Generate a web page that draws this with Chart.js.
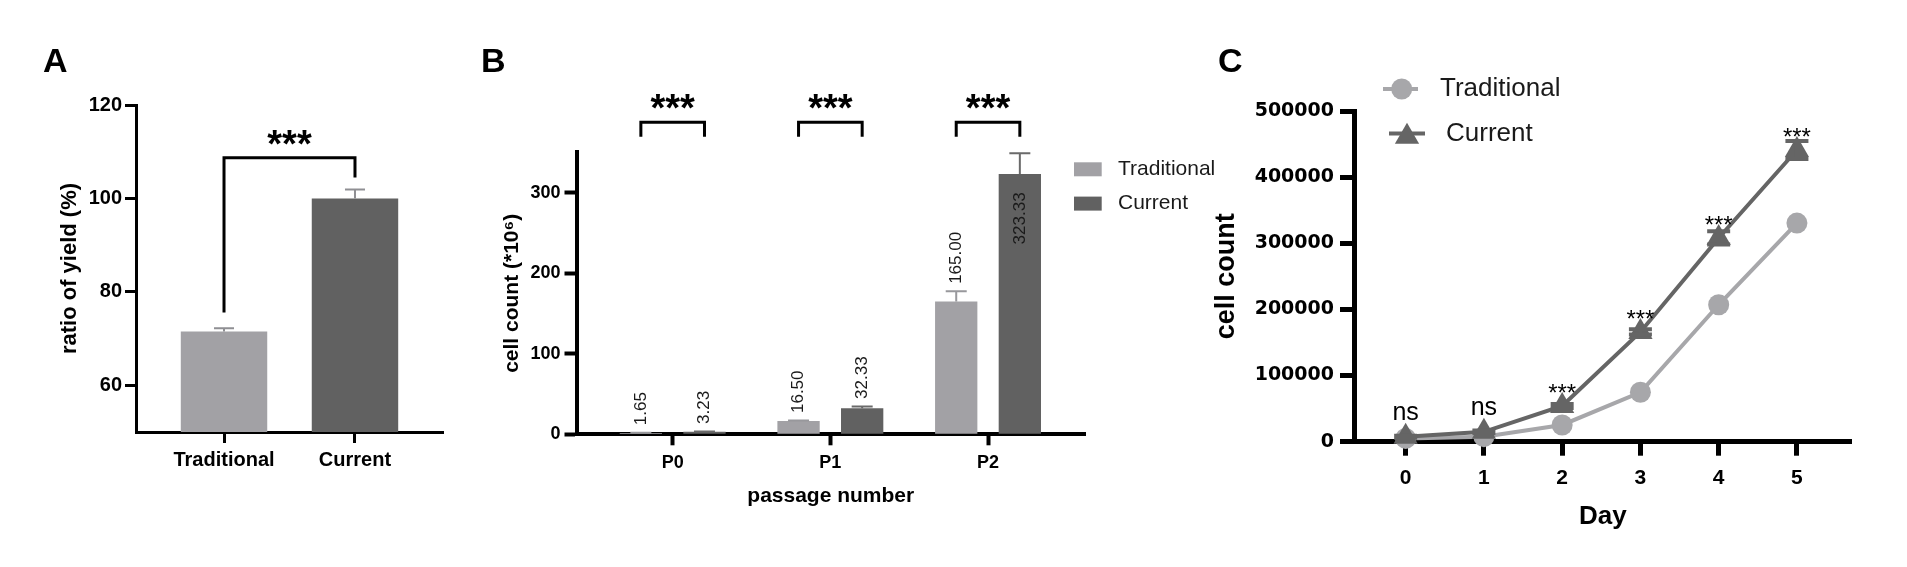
<!DOCTYPE html>
<html>
<head>
<meta charset="utf-8">
<title>Cell yield comparison</title>
<script src="https://cdn.jsdelivr.net/npm/chart.js@4.4.1/dist/chart.umd.min.js"></script>
<style>
  body { margin: 0; background: #fff; }
  #wrap { position: relative; width: 1907px; height: 567px; overflow: hidden; }
  #wrap canvas { position: absolute; left: 0; top: 0; }
  .tag { position: absolute; font: bold 34px "Liberation Sans", Arial, sans-serif; line-height: 1; color: #000; }
</style>
</head>
<body>
<div id="wrap">
  <canvas id="chartA" width="1907" height="567"></canvas>
  <canvas id="chartB" width="1907" height="567"></canvas>
  <canvas id="chartC" width="1907" height="567"></canvas>
  <div class="tag" style="left:43px;top:43px">A</div>
  <div class="tag" style="left:481px;top:43px">B</div>
  <div class="tag" style="left:1218px;top:43px">C</div>
</div>
<script>
// ================= DATA =================
// A: ratio of yield
const yieldGroups = ['Traditional', 'Current'];
const yieldMeans = [71.5, 100];
const yieldErr = [0.7, 1.9];
const yieldTicks = [60, 80, 100, 120];

// B: cell count per passage (*10^6)
const passages = ['P0', 'P1', 'P2'];
const passTraditional = [1.65, 16.50, 165.00];
const passCurrent = [3.23, 32.33, 323.33];
const passTradErr = [0.3, 0.6, 12.5];
const passCurErr = [0.4, 2.3, 25.5];
const passTicks = [0, 100, 200, 300];

// C: growth curve
const days = [0, 1, 2, 3, 4, 5];
const dayTraditional = [5000, 7600, 25300, 74800, 207000, 330500];
const dayCurrent = [7500, 15000, 54000, 166000, 308000, 441000];
const dayCurErr = [1500, 2000, 3000, 4000, 10000, 13500];
const dayMarks = ['ns', 'ns', '***', '***', '***', '***'];
const dayTicks = [0, 100000, 200000, 300000, 400000, 500000];

// ================= STYLE =================
const fontFam = '"Liberation Sans", Arial, Helvetica, sans-serif';
const ink = '#000';
const colTrad = '#a2a1a5';
const colCur = '#616161';
const colTradLine = '#a7a7aa';
const colCurLine = '#656565';

function fixTicks(values) {
  return s => { s.ticks = values.map(v => ({ value: v })); };
}

function axisStyle(width, tickLen) {
  return {
    grid: {
      display: true, offset: false, drawOnChartArea: false,
      tickLength: tickLen, tickWidth: width, tickColor: ink
    },
    border: { display: true, color: ink, width: width }
  };
}

// ================= PLUGINS =================
// error bars read from dataset.errors
const errorBarPlugin = {
  id: 'errorBars',
  afterDatasetsDraw(chart, args, opts) {
    const ctx = chart.ctx;
    const y = chart.scales.y;
    chart.data.datasets.forEach((ds, di) => {
      if (!ds.errors) return;
      const meta = chart.getDatasetMeta(di);
      ctx.save();
      ctx.strokeStyle = ds.errorColor || ds.borderColor;
      ctx.lineWidth = opts.width;
      meta.data.forEach((el, i) => {
        const v = ds.data[i].y;
        const hi = y.getPixelForValue(v + ds.errors[i]);
        const lo = opts.both ? y.getPixelForValue(v - ds.errors[i]) : el.y;
        ctx.beginPath();
        ctx.moveTo(el.x, lo);
        ctx.lineTo(el.x, hi);
        ctx.moveTo(el.x - opts.cap / 2, hi);
        ctx.lineTo(el.x + opts.cap / 2, hi);
        if (opts.both) {
          ctx.moveTo(el.x - opts.cap / 2, lo);
          ctx.lineTo(el.x + opts.cap / 2, lo);
        }
        ctx.stroke();
      });
      ctx.restore();
    });
  }
};

// significance brackets with *** on top
const bracketPlugin = {
  id: 'brackets',
  afterDraw(chart, args, opts) {
    const ctx = chart.ctx;
    const y = chart.scales.y;
    ctx.save();
    ctx.strokeStyle = ink;
    ctx.fillStyle = ink;
    ctx.lineWidth = opts.width;
    ctx.font = opts.font;
    ctx.textAlign = 'center';
    ctx.textBaseline = 'alphabetic';
    opts.items.forEach(b => {
      const x0 = chart.getDatasetMeta(b.from[0]).data[b.from[1]].x;
      const x1 = chart.getDatasetMeta(b.to[0]).data[b.to[1]].x;
      const top = y.getPixelForValue(b.level);
      ctx.beginPath();
      ctx.moveTo(x0, y.getPixelForValue(b.legs[0]));
      ctx.lineTo(x0, top);
      ctx.lineTo(x1, top);
      ctx.lineTo(x1, y.getPixelForValue(b.legs[1]));
      ctx.stroke();
      ctx.fillText(b.text, (x0 + x1) / 2, top + opts.textShift);
    });
    ctx.restore();
  }
};

// rotated value labels on the bars of B
const valueLabelPlugin = {
  id: 'valueLabels',
  afterDatasetsDraw(chart, args, opts) {
    const ctx = chart.ctx;
    const area = chart.chartArea;
    const y = chart.scales.y;
    ctx.save();
    ctx.font = opts.font;
    ctx.fillStyle = opts.color;
    ctx.textBaseline = 'middle';
    chart.data.datasets.forEach((ds, di) => {
      chart.getDatasetMeta(di).data.forEach((el, i) => {
        const v = ds.data[i].y;
        const txt = v.toFixed(2);
        const w = ctx.measureText(txt).width;
        const capY = y.getPixelForValue(v + ds.errors[i]);
        ctx.save();
        ctx.translate(el.x, 0);
        ctx.rotate(-Math.PI / 2);
        if (capY - opts.gap - w >= area.top) {
          ctx.textAlign = 'left';
          ctx.fillText(txt, -(capY - opts.gap), 0);
        } else {
          ctx.textAlign = 'right';
          ctx.fillText(txt, -(el.y + opts.inset), 0);
        }
        ctx.restore();
      });
    });
    ctx.restore();
  }
};

// ns / *** above the Current curve of C
const dayMarkPlugin = {
  id: 'dayMarks',
  afterDatasetsDraw(chart, args, opts) {
    const ctx = chart.ctx;
    const meta = chart.getDatasetMeta(opts.dataset);
    ctx.save();
    ctx.fillStyle = ink;
    ctx.textAlign = 'center';
    ctx.textBaseline = 'alphabetic';
    dayMarks.forEach((m, i) => {
      const el = meta.data[i];
      const st = m === 'ns' ? opts.ns : opts.stars;
      ctx.font = st.font;
      ctx.fillText(m, el.x, el.y - st.lift);
    });
    ctx.restore();
  }
};

// legends placed freely next to the plots
const freeLegendPlugin = {
  id: 'freeLegend',
  afterDraw(chart, args, opts) {
    const ctx = chart.ctx;
    ctx.save();
    ctx.font = opts.font;
    ctx.textAlign = 'left';
    ctx.textBaseline = 'middle';
    chart.data.datasets.forEach((ds, i) => {
      const row = opts.rows[i];
      const col = ds.backgroundColor;
      if (opts.marker === 'box') {
        ctx.fillStyle = col;
        ctx.fillRect(row.mx, row.y - opts.boxH / 2, opts.boxW, opts.boxH);
      } else {
        ctx.strokeStyle = ds.borderColor;
        ctx.lineWidth = ds.borderWidth;
        ctx.beginPath();
        ctx.moveTo(row.line[0], row.y);
        ctx.lineTo(row.line[1], row.y);
        ctx.stroke();
        ctx.fillStyle = col;
        ctx.strokeStyle = col;
        Chart.helpers.drawPoint(ctx, {
          pointStyle: ds.pointStyle, radius: ds.pointRadius, borderWidth: 0, rotation: 0
        }, row.mx, row.py);
      }
      ctx.fillStyle = opts.color;
      ctx.fillText(ds.label, row.tx, row.y);
    });
    ctx.restore();
  }
};

const noInteract = { responsive: false, animation: false, events: [] };

// ================= CHART A =================
new Chart(document.getElementById('chartA'), {
  type: 'bar',
  data: {
    datasets: [{
      label: 'ratio of yield',
      data: yieldMeans.map((v, i) => ({ x: i, y: v })),
      backgroundColor: [colTrad, colCur],
      errorColor: '#8f8f93',
      borderWidth: 0,
      categoryPercentage: 1,
      barPercentage: 0.66,
      errors: yieldErr
    }]
  },
  options: {
    ...noInteract,
    layout: { padding: { left: 52.8, top: 105, right: 1464, bottom: 75 } },
    plugins: {
      legend: { display: false },
      tooltip: { enabled: false },
      errorBars: { width: 2, cap: 20, both: false },
      brackets: {
        width: 3, font: 'bold 38px ' + fontFam, textShift: -1,
        items: [{ from: [0, 0], to: [0, 1], level: 108.7, legs: [75.6, 104.5], text: '***' }]
      }
    },
    scales: {
      x: {
        type: 'linear', min: -0.672, max: 1.672, offset: false,
        afterBuildTicks: fixTicks(yieldGroups.map((g, i) => i)),
        afterFit: s => { s.height = 60; },
        ticks: {
          callback: v => yieldGroups[v], autoSkip: false, maxRotation: 0,
          color: ink, padding: 5, font: { family: fontFam, size: 20, weight: 'bold' }
        },
        ...axisStyle(3, 11)
      },
      y: {
        min: 50, max: 120,
        afterBuildTicks: fixTicks(yieldTicks),
        afterFit: s => { s.width = 83.2; },
        ticks: { color: ink, padding: 3, font: { family: fontFam, size: 20, weight: 'bold' } },
        title: {
          display: true, text: 'ratio of yield (%)', color: ink,
          padding: { top: 4, bottom: 4 }, font: { family: fontFam, size: 22, weight: 'bold' }
        },
        ...axisStyle(3, 11)
      }
    }
  },
  plugins: [errorBarPlugin, bracketPlugin]
});

// ================= CHART B =================
new Chart(document.getElementById('chartB'), {
  type: 'bar',
  data: {
    datasets: [
      {
        label: 'Traditional',
        data: passTraditional.map((v, i) => ({ x: i, y: v })),
        backgroundColor: colTrad, errorColor: '#98989c', borderWidth: 0,
        categoryPercentage: 0.807, barPercentage: 0.665,
        errors: passTradErr
      },
      {
        label: 'Current',
        data: passCurrent.map((v, i) => ({ x: i, y: v })),
        backgroundColor: colCur, errorColor: '#6a6a6a', borderWidth: 0,
        categoryPercentage: 0.807, barPercentage: 0.665,
        errors: passCurErr
      }
    ]
  },
  options: {
    ...noInteract,
    layout: { padding: { left: 495.4, top: 152.4, right: 822, bottom: 53.7 } },
    plugins: {
      legend: { display: false },
      tooltip: { enabled: false },
      errorBars: { width: 2, cap: 21, both: false },
      valueLabels: { font: '17px ' + fontFam, color: '#1a1a1a', gap: 7.5, inset: 18.5 },
      brackets: {
        width: 3, font: 'bold 38px ' + fontFam, textShift: -1,
        items: passages.map((p, i) => ({ from: [0, i], to: [1, i], level: 387.5, legs: [369.5, 369.5], text: '***' }))
      },
      freeLegend: {
        marker: 'box', boxW: 27.7, boxH: 14, font: '21px ' + fontFam, color: '#1a1a1a',
        rows: [{ mx: 1074, y: 169.3, tx: 1118 }, { mx: 1074, y: 203.6, tx: 1118 }]
      }
    },
    scales: {
      x: {
        type: 'linear', min: -0.61, max: 2.615, offset: false,
        afterBuildTicks: fixTicks(passages.map((p, i) => i)),
        afterFit: s => { s.height = 79; },
        ticks: {
          callback: v => passages[v], autoSkip: false, maxRotation: 0,
          color: ink, padding: 7, font: { family: fontFam, size: 18, weight: 'bold' }
        },
        title: {
          display: true, text: 'passage number', color: ink,
          padding: { top: 4, bottom: 4 }, font: { family: fontFam, size: 21, weight: 'bold' }
        },
        ...axisStyle(4, 11)
      },
      y: {
        min: 0, max: 350,
        afterBuildTicks: fixTicks(passTicks),
        afterFit: s => { s.width = 81.1; },
        ticks: { color: ink, padding: 4, font: { family: fontFam, size: 18, weight: 'bold' } },
        title: {
          display: true, text: 'cell count (*10\u2076)', color: ink,
          padding: { top: 4, bottom: 4 }, font: { family: fontFam, size: 21, weight: 'bold' }
        },
        ...axisStyle(4, 12)
      }
    }
  },
  plugins: [errorBarPlugin, valueLabelPlugin, bracketPlugin, freeLegendPlugin]
});

// ================= CHART C =================
new Chart(document.getElementById('chartC'), {
  type: 'line',
  data: {
    datasets: [
      {
        label: 'Traditional',
        data: days.map((d, i) => ({ x: d, y: dayTraditional[i] })),
        borderColor: colTradLine, backgroundColor: colTradLine, borderWidth: 4,
        pointStyle: 'circle', pointRadius: 10.5, pointBorderWidth: 0,
        tension: 0, clip: false, order: 1
      },
      {
        label: 'Current',
        data: days.map((d, i) => ({ x: d, y: dayCurrent[i] })),
        borderColor: colCurLine, backgroundColor: colCurLine, borderWidth: 4,
        pointStyle: 'triangle', pointRadius: 14, pointBorderWidth: 0,
        tension: 0, clip: false, order: 0,
        errors: dayCurErr
      }
    ]
  },
  options: {
    ...noInteract,
    layout: { padding: { left: 1206.3, top: 111, right: 55.3, bottom: 30.4 } },
    plugins: {
      legend: { display: false },
      tooltip: { enabled: false },
      errorBars: { width: 4, cap: 23, both: true },
      dayMarks: {
        dataset: 1,
        ns: { font: '25px ' + fontFam, lift: 16.5 },
        stars: { font: '24px ' + fontFam, lift: 5 }
      },
      freeLegend: {
        marker: 'point', font: '26px ' + fontFam, color: '#1a1a1a',
        rows: [
          { line: [1383, 1418], mx: 1401.7, py: 89, y: 89, tx: 1440 },
          { line: [1389, 1425], mx: 1407, py: 136.8, y: 133.5, tx: 1446 }
        ]
      }
    },
    scales: {
      x: {
        type: 'linear', min: -0.66, max: 5.7, offset: false,
        afterBuildTicks: fixTicks(days),
        afterFit: s => { s.height = 94.9; },
        ticks: { color: ink, padding: 10, font: { family: fontFam, size: 21, weight: 'bold' } },
        title: {
          display: true, text: 'Day', color: ink,
          padding: { top: 4, bottom: 4 }, font: { family: fontFam, size: 26, weight: 'bold' }
        },
        ...axisStyle(5, 14)
      },
      y: {
        min: 0, max: 500000,
        afterBuildTicks: fixTicks(dayTicks),
        afterFit: s => { s.width = 147.7; },
        ticks: {
          callback: v => String(v),
          color: ink, padding: 6, font: { family: '"DejaVu Sans", ' + fontFam, size: 19, weight: 'bold' }
        },
        title: {
          display: true, text: 'cell count', color: ink,
          padding: { top: 4, bottom: 4 }, font: { family: fontFam, size: 27, weight: 'bold' }
        },
        ...axisStyle(5, 14)
      }
    }
  },
  plugins: [errorBarPlugin, dayMarkPlugin, freeLegendPlugin]
});
</script>
</body>
</html>
